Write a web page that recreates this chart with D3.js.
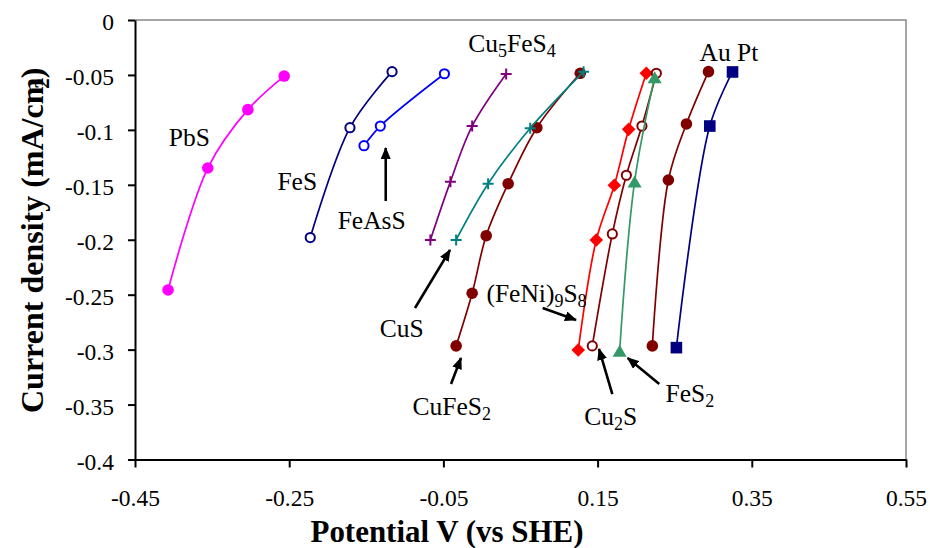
<!DOCTYPE html>
<html>
<head>
<meta charset="utf-8">
<script src="https://cdn.jsdelivr.net/npm/d3@7"></script>
<style>
  body { margin: 0; background: #fff; }
  svg { display: block; }
  svg text { font-family: "Liberation Serif", "DejaVu Serif", serif; fill: #000; }
</style>
</head>
<body>
<svg id="chart" width="930" height="548"></svg>
<script>
const SERIF = '"Liberation Serif", "DejaVu Serif", serif';

// Axis ticks
const xTicks = [-0.45, -0.25, -0.05, 0.15, 0.35, 0.55];
const yTicks = [0, -0.05, -0.1, -0.15, -0.2, -0.25, -0.3, -0.35, -0.4];

// Polarisation data: [potential V vs SHE, current density mA/cm2]
const PbS      = [[-0.2565, -0.051], [-0.3036, -0.0816], [-0.3556, -0.1347], [-0.4071, -0.2457]];
const FeS      = [[-0.1166, -0.047], [-0.1712, -0.098], [-0.2227, -0.198]];
const FeAsS    = [[-0.0487, -0.0489], [-0.1318, -0.0965], [-0.153, -0.1144]];
const Cu5FeS4  = [[0.0314, -0.0491], [-0.0127, -0.0965], [-0.0409, -0.1471], [-0.0669, -0.2002]];
const CuFeS2   = [[0.1275, -0.0485], [0.0712, -0.098], [0.034, -0.149], [0.0055, -0.1963], [-0.0127, -0.2487], [-0.0335, -0.2966]];
const CuS      = [[0.1318, -0.047], [0.0626, -0.0985], [0.008, -0.149], [-0.0335, -0.2002]];
const FeNi9S8  = [[0.2132, -0.0485], [0.1903, -0.0995], [0.1717, -0.1504], [0.1483, -0.2002], [0.1249, -0.3003]];
const Cu2S     = [[0.2262, -0.0485], [0.2075, -0.0965], [0.1873, -0.1413], [0.1691, -0.1947], [0.1431, -0.2966]];
const FeS2     = [[0.224, -0.052], [0.198, -0.147], [0.1786, -0.301]];
const Au       = [[0.2938, -0.047], [0.2652, -0.0946], [0.2418, -0.1456], [0.221, -0.2966]];
const Pt       = [[0.325, -0.0473], [0.2955, -0.0965], [0.2522, -0.2982]];

// Series drawing order and styling
const series = [
  { data: PbS,     color: "#FF00FF", marker: "dot" },
  { data: FeS,     color: "#000080", marker: "ring" },
  { data: FeAsS,   color: "#0000FF", marker: "ring" },
  { data: Cu5FeS4, color: "#800080", marker: "plus" },
  { data: CuFeS2,  color: "#800000", marker: "dot" },
  { data: CuS,     color: "#008080", marker: "plus" },
  { data: FeNi9S8, color: "#FF0000", marker: "diamond" },
  { data: Cu2S,    color: "#800000", marker: "ring" },
  { data: FeS2,    color: "#339966", marker: "triangle" },
  { data: Au,      color: "#800000", marker: "dot" },
  { data: Pt,      color: "#000080", marker: "square" }
];

// Mineral labels (text parts: [string, isSubscript]) placed in data units
const labels = [
  { parts: [["PbS", 0]],                                   at: [-0.3796, -0.1147] },
  { parts: [["FeS", 0]],                                   at: [-0.2395, -0.1547] },
  { parts: [["FeAsS", 0]],                                 at: [-0.143, -0.1904] },
  { parts: [["Cu", 0], ["5", 1], ["FeS", 0], ["4", 1]],    at: [0.039, -0.0289] },
  { parts: [["Au Pt", 0]],                                 at: [0.3204, -0.0373] },
  { parts: [["CuS", 0]],                                   at: [-0.1041, -0.2888] },
  { parts: [["CuFeS", 0], ["2", 1]],                       at: [-0.0392, -0.3595] },
  { parts: [["(FeNi)", 0], ["9", 1], ["S", 0], ["8", 1]],  at: [0.0708, -0.2564] },
  { parts: [["Cu", 0], ["2", 1], ["S", 0]],                at: [0.167, -0.3686] },
  { parts: [["FeS", 0], ["2", 1]],                         at: [0.2698, -0.3474] }
];

// Pointer arrows: [from, to] in data units
const arrows = [
  [[-0.1248, -0.1647], [-0.1248, -0.1165]],
  [[-0.0868, -0.2621], [-0.0414, -0.2093]],
  [[-0.0401, -0.3313], [-0.0272, -0.3076]],
  [[0.0788, -0.2621], [0.122, -0.273]],
  [[0.1691, -0.3404], [0.1518, -0.2994]],
  [[0.23, -0.3313], [0.189, -0.3076]]
];

const svg = d3.select("#chart");

const x = d3.scaleLinear().domain([-0.45, 0.55]).range([135, 906]);
const y = d3.scaleLinear().domain([-0.4, 0]).range([459.5, 20]);

// Plot frame: grey top and right edges
svg.append("path")
  .attr("d", `M${x(-0.45)},${y(0)}H${x(0.55)}V${y(-0.4)}`)
  .attr("fill", "none").attr("stroke", "#888").attr("stroke-width", 1.5);

// Axes
const fmt = d => String(d);
const yAxis = svg.append("g")
  .attr("transform", `translate(${x(-0.45)},0)`)
  .call(d3.axisLeft(y).tickValues(yTicks).tickFormat(fmt).tickSize(7).tickPadding(14).tickSizeOuter(0));
const xAxis = svg.append("g")
  .attr("transform", `translate(0,${y(-0.4)})`)
  .call(d3.axisBottom(x).tickValues(xTicks).tickFormat(fmt).tickSize(8).tickPadding(22).tickSizeOuter(0));

[yAxis, xAxis].forEach(g => {
  g.attr("font-family", SERIF).attr("font-size", 23.5);
  g.select(".domain").attr("stroke", "#000").attr("stroke-width", 2);
  g.selectAll(".tick line").attr("stroke", "#000").attr("stroke-width", 2);
  g.selectAll(".tick text").attr("fill", "#000");
});
yAxis.selectAll(".tick text").attr("dy", "0.42em");

// Axis titles
svg.append("text")
  .attr("x", 447).attr("y", 542)
  .attr("text-anchor", "middle")
  .attr("font-family", SERIF)
  .attr("textLength", 273).attr("lengthAdjust", "spacingAndGlyphs")
  .attr("font-size", 32).attr("font-weight", "bold")
  .text("Potential V (vs SHE)");

const yTitle = svg.append("text")
  .attr("transform", "translate(43,413) rotate(-90)")
  .attr("font-family", SERIF)
  .attr("font-size", 32).attr("font-weight", "bold");
yTitle.append("tspan").text("Current density (mA/cm");
yTitle.append("tspan").attr("dx", -11).attr("dy", 6).attr("font-size", 21).text("2");
yTitle.append("tspan").attr("dy", -6).text(")");

// Lines
const line = d3.line()
  .x(d => x(d[0])).y(d => y(d[1]))
  .curve(d3.curveCatmullRom.alpha(0.5));

const marker = (g, type, color) => {
  switch (type) {
    case "dot":
      g.append("circle").attr("r", 5.8).attr("fill", color);
      break;
    case "ring":
      g.append("circle").attr("r", 4.6).attr("fill", "#fff").attr("stroke", color).attr("stroke-width", 2);
      break;
    case "plus":
      g.append("path").attr("d", "M-5.5,0H5.5M0,-5.5V5.5").attr("stroke", color).attr("stroke-width", 2).attr("fill", "none");
      break;
    case "diamond":
      g.append("path").attr("d", "M0,-6.8L6.8,0L0,6.8L-6.8,0Z").attr("fill", color);
      break;
    case "triangle":
      g.append("path").attr("d", "M0,-6L7,6L-7,6Z").attr("fill", color);
      break;
    case "square":
      g.append("rect").attr("x", -5.8).attr("y", -5.8).attr("width", 11.6).attr("height", 11.6).attr("fill", color);
      break;
  }
};

series.forEach(s => {
  const g = svg.append("g");
  g.append("path").attr("d", line(s.data))
    .attr("fill", "none").attr("stroke", s.color).attr("stroke-width", 1.7);
  g.selectAll("g.pt").data(s.data).join("g")
    .attr("class", "pt")
    .attr("transform", d => `translate(${x(d[0])},${y(d[1])})`)
    .each(function () { marker(d3.select(this), s.marker, s.color); });
});

// Labels
labels.forEach(l => {
  const t = svg.append("text")
    .attr("x", x(l.at[0])).attr("y", y(l.at[1]))
    .attr("text-anchor", "middle")
    .attr("font-family", SERIF)
    .attr("font-size", 25.5);
  let shifted = false;
  l.parts.forEach(([str, sub]) => {
    const sp = t.append("tspan").text(str);
    if (sub && !shifted) { sp.attr("dy", 5).attr("font-size", 18); shifted = true; }
    else if (sub) { sp.attr("font-size", 18); }
    else if (shifted) { sp.attr("dy", -5); shifted = false; }
  });
});

// Arrows
const defs = svg.append("defs");
defs.append("marker")
  .attr("id", "head").attr("markerUnits", "userSpaceOnUse")
  .attr("viewBox", "0 0 12 10").attr("refX", 11).attr("refY", 5)
  .attr("markerWidth", 12).attr("markerHeight", 10).attr("orient", "auto")
  .append("path").attr("d", "M0,0L12,5L0,10Z").attr("fill", "#000");

svg.selectAll("line.arrow").data(arrows).join("line")
  .attr("class", "arrow")
  .attr("x1", d => x(d[0][0])).attr("y1", d => y(d[0][1]))
  .attr("x2", d => x(d[1][0])).attr("y2", d => y(d[1][1]))
  .attr("stroke", "#000").attr("stroke-width", 2.6)
  .attr("marker-end", "url(#head)");
</script>
</body>
</html>
